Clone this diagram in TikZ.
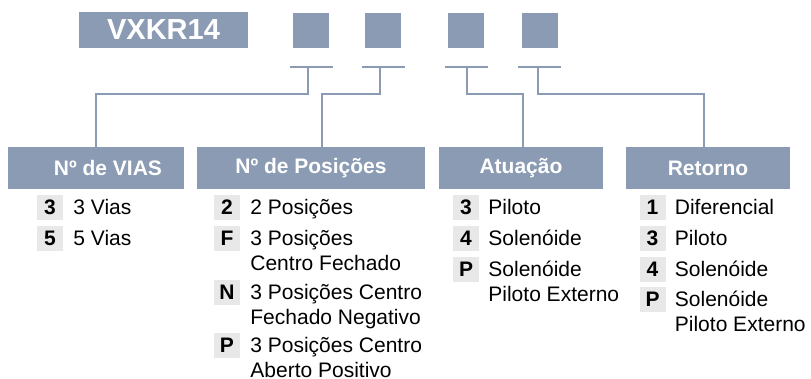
\documentclass[tikz,border=0pt]{standalone}
\usepackage{fontspec}
\setmainfont{Liberation Sans}
\usetikzlibrary{
  calc,
  positioning
}
\definecolor{azulcinza}{RGB}{138,155,179}
\definecolor{cinzaclaro}{RGB}{232,232,232}
\newcommand{\linhas}[1]{\begin{tabular}[t]{@{}l@{}}#1\end{tabular}}

\begin{document}
\begin{tikzpicture}[x=1pt,y=-1pt,
    caixa/.style={fill=azulcinza,text=white,inner sep=0pt,
      font=\bfseries\fontsize{21}{25}\selectfont,minimum height=42pt},
    quadro/.style={fill=azulcinza,inner sep=0pt,
      minimum width=36pt,minimum height=35pt},
    chave/.style={fill=cinzaclaro,inner sep=0pt,
      font=\bfseries\fontsize{21}{25}\selectfont,
      minimum width=26pt,minimum height=25pt},
    opcao/.style={font=\fontsize{21}{25}\selectfont,inner sep=0pt},
    ligacao/.style={draw=azulcinza,line width=2pt}]

  \useasboundingbox (0,0) rectangle (811,378);

  % 型式コードと空欄
  \node[caixa,font=\bfseries\fontsize{29}{32}\selectfont,
    minimum width=169pt,minimum height=36pt] (modelo) at (163.5,30) {VXKR14};

  \node[quadro] (q1) at (311,30.5) {};
  \node[quadro] (q2) at (383,30.5) {};
  \node[quadro] (q3) at (466,30.5) {};
  \node[quadro] (q4) at (539.5,30.5) {};

  % 見出し
  \node[caixa,minimum width=176pt] (h1) at (96,168)
    {\hspace*{24pt}Nº de VIAS};
  \node[caixa,minimum width=228pt] (h2) at (311,168) {Nº de Posições};
  \node[caixa,minimum width=164pt] (h3) at (521,168) {Atuação};
  \node[caixa,minimum width=164pt] (h4) at (708,168) {Retorno};

  % T字の引出線
  \coordinate (t1) at ($(q1.south)+(-3,19)$);
  \coordinate (t2) at ($(q2.south)+(-3,19)$);
  \coordinate (t3) at ($(q3.south)+(1,19)$);
  \coordinate (t4) at ($(q4.south)+(-1.5,19)$);

  \draw[ligacao] ($(q1.south)+(-21.5,19)$) -- ($(q1.south)+(21.5,19)$);
  \draw[ligacao] ($(q2.south)+(-21.5,19)$) -- ($(q2.south)+(21.5,19)$);
  \draw[ligacao] ($(q3.south)+(-21.5,19)$) -- ($(q3.south)+(21.5,19)$);
  \draw[ligacao] ($(q4.south)+(-21.5,19)$) -- ($(q4.south)+(21.5,19)$);

  % 空欄から見出しへ
  \draw[ligacao] (t1) -- ++(0,27) -| (h1.north);
  \draw[ligacao] (t2) -- ++(0,27) -| ($(h2.north)+(11,0)$);
  \draw[ligacao] (t3) -- ++(0,27) -| ($(h3.north)+(2,0)$);
  \draw[ligacao] (t4) -- ++(0,27) -| ($(h4.north)+(-4,0)$);

  % Nº de VIAS
  \node[chave] (v3) at (50,207.5) {3};
  \node[opcao,base right=10pt of v3] (v3t) {3 Vias};
  \node[chave] (v5) at (50,238.5) {5};
  \node[opcao,base right=10pt of v5] (v5t) {5 Vias};

  % Nº de Posições
  \node[chave] (p2) at (227,207.5) {2};
  \node[opcao,base right=10pt of p2] (p2t) {2 Posições};
  \node[chave] (pF) at (227,238.5) {F};
  \node[opcao,base right=10pt of pF] (pFt)
    {\linhas{3 Posições\\Centro Fechado}};
  \node[chave] (pN) at (227,292.5) {N};
  \node[opcao,base right=10pt of pN] (pNt)
    {\linhas{3 Posições Centro\\Fechado Negativo}};
  \node[chave] (pP) at (227,345.5) {P};
  \node[opcao,base right=10pt of pP] (pPt)
    {\linhas{3 Posições Centro\\Aberto Positivo}};

  % Atuação
  \node[chave] (a3) at (466,207.5) {3};
  \node[opcao,base right=9pt of a3] (a3t) {Piloto};
  \node[chave] (a4) at (466,238.5) {4};
  \node[opcao,base right=9pt of a4] (a4t) {Solenóide};
  \node[chave] (aP) at (466,269.5) {P};
  \node[opcao,base right=9pt of aP] (aPt)
    {\linhas{Solenóide\\Piloto Externo}};

  % Retorno
  \node[chave] (r1) at (652.5,207.5) {1};
  \node[opcao,base right=9pt of r1] (r1t) {Diferencial};
  \node[chave] (r3) at (652.5,238.5) {3};
  \node[opcao,base right=9pt of r3] (r3t) {Piloto};
  \node[chave] (r4) at (652.5,269.5) {4};
  \node[opcao,base right=9pt of r4] (r4t) {Solenóide};
  \node[chave] (rP) at (652.5,299.5) {P};
  \node[opcao,base right=9pt of rP] (rPt)
    {\linhas{Solenóide\\Piloto Externo}};

\end{tikzpicture}
\end{document}
